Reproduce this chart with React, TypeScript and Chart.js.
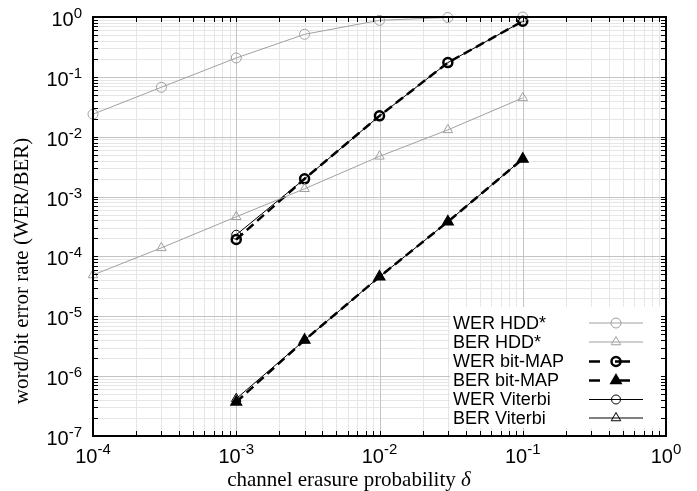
import React, { useEffect, useRef } from "react";
import { Chart, registerables } from "chart.js";

Chart.register(...registerables);

// ---- data ----
const deltaHDD = [1e-4, 3e-4, 1e-3, 3e-3, 1e-2, 3e-2, 1e-1];
const werHDD = [0.0238, 0.067, 0.207, 0.514, 0.88, 0.98, 1.0];
const berHDD = [4.9e-5, 1.39e-4, 4.6e-4, 1.35e-3, 4.7e-3, 0.013, 0.0445];
const deltaMAP = [1e-3, 3e-3, 1e-2, 3e-2, 1e-1];
const werMAP = [1.92e-4, 1.98e-3, 0.0223, 0.173, 0.85];
const berMAP = [3.7e-7, 4.0e-6, 4.57e-5, 3.8e-4, 4.26e-3];
const werViterbi = [2.3e-4, 1.98e-3, 0.0223, 0.173, 0.85];
const berViterbi = [4.2e-7, 4.0e-6, 4.57e-5, 3.8e-4, 4.26e-3];

const xExponents = [-4, -3, -2, -1, 0];
const yExponents = [-7, -6, -5, -4, -3, -2, -1, 0];

const legendLabels = [
  "WER HDD*",
  "BER HDD*",
  "WER bit-MAP",
  "BER bit-MAP",
  "WER Viterbi",
  "BER Viterbi",
];

const xTitle = "channel erasure probability ";
const xTitleSymbol = "δ";
const yTitle = "word/bit error rate (WER/BER)";

const GRAY = "#a0a0a0";
const SANS = "'Liberation Sans', Arial, sans-serif";
const SERIF = "'Liberation Serif', 'Times New Roman', serif";

const pts = (xs: number[], ys: number[]) => xs.map((x, i) => ({ x, y: ys[i] }));

const styles = [
  { color: GRAY, width: 1, dash: [] as number[], style: "circle", r: 5, bw: 1, fill: "rgba(0,0,0,0)" },
  { color: GRAY, width: 1, dash: [] as number[], style: "triangle", r: 5.5, bw: 1, fill: "rgba(0,0,0,0)" },
  { color: "#000", width: 2.5, dash: [9, 5], style: "circle", r: 4.5, bw: 2.5, fill: "rgba(0,0,0,0)" },
  { color: "#000", width: 2.5, dash: [9, 5], style: "triangle", r: 6, bw: 1.5, fill: "#000" },
  { color: "#000", width: 1, dash: [] as number[], style: "circle", r: 4.5, bw: 1, fill: "rgba(0,0,0,0)" },
  { color: "#000", width: 1, dash: [] as number[], style: "triangle", r: 5.5, bw: 1, fill: "rgba(0,0,0,0)" },
];

function drawMarker(ctx: CanvasRenderingContext2D, s: any, x: number, y: number) {
  ctx.save();
  ctx.setLineDash([]);
  ctx.lineWidth = s.bw;
  ctx.strokeStyle = s.color;
  ctx.fillStyle = s.fill;
  ctx.beginPath();
  if (s.style === "circle") {
    ctx.arc(x, y, s.r, 0, Math.PI * 2);
  } else {
    const r = s.r;
    ctx.moveTo(x, y - r);
    ctx.lineTo(x + r * Math.sin((2 * Math.PI) / 3), y - r * Math.cos((2 * Math.PI) / 3));
    ctx.lineTo(x + r * Math.sin((4 * Math.PI) / 3), y - r * Math.cos((4 * Math.PI) / 3));
    ctx.closePath();
  }
  ctx.fill();
  ctx.stroke();
  ctx.restore();
}

const decorPlugin = {
  id: "decor",
  beforeDatasetsDraw(chart: any) {
    const ctx: CanvasRenderingContext2D = chart.ctx;
    const xs = chart.scales.x;
    const ys = chart.scales.y;
    const { left, right, top, bottom } = chart.chartArea;
    ctx.save();
    ctx.lineWidth = 1;
    // minor grid
    ctx.strokeStyle = "#e6e6e6";
    ctx.beginPath();
    for (let e = -4; e < 0; e++) {
      for (let m = 2; m <= 9; m++) {
        const px = Math.round(xs.getPixelForValue(m * Math.pow(10, e))) + 0.5;
        ctx.moveTo(px, top);
        ctx.lineTo(px, bottom);
      }
    }
    for (let e = -7; e < 0; e++) {
      for (let m = 2; m <= 9; m++) {
        const py = Math.round(ys.getPixelForValue(m * Math.pow(10, e))) + 0.5;
        ctx.moveTo(left, py);
        ctx.lineTo(right, py);
      }
    }
    ctx.stroke();
    // major grid
    ctx.strokeStyle = "#c4c4c4";
    ctx.beginPath();
    xExponents.forEach((e) => {
      const px = Math.round(xs.getPixelForValue(Math.pow(10, e))) + 0.5;
      ctx.moveTo(px, top);
      ctx.lineTo(px, bottom);
    });
    yExponents.forEach((e) => {
      const py = Math.round(ys.getPixelForValue(Math.pow(10, e))) + 0.5;
      ctx.moveTo(left, py);
      ctx.lineTo(right, py);
    });
    ctx.stroke();
    ctx.restore();
  },
  afterDatasetsDraw(chart: any) {
    const ctx: CanvasRenderingContext2D = chart.ctx;
    const xs = chart.scales.x;
    const ys = chart.scales.y;
    const { left, right, top, bottom } = chart.chartArea;
    ctx.save();

    // legend box
    ctx.fillStyle = "#fff";
    ctx.fillRect(450, 307, 211, 121);
    const rowY = [323, 342, 361.5, 380.5, 399.5, 418];
    ctx.font = `18px ${SANS}`;
    ctx.textBaseline = "middle";
    ctx.textAlign = "left";
    legendLabels.forEach((lab, i) => {
      const s = styles[i];
      const y = rowY[i];
      ctx.fillStyle = "#000";
      ctx.fillText(lab, 453, y + 1);
      ctx.save();
      ctx.strokeStyle = s.color;
      ctx.lineWidth = s.width;
      ctx.beginPath();
      if (s.dash.length) {
        ctx.moveTo(589, y);
        ctx.lineTo(600, y);
        ctx.moveTo(615, y);
        ctx.lineTo(630, y);
      } else {
        ctx.moveTo(589, y);
        ctx.lineTo(643, y);
      }
      ctx.stroke();
      ctx.restore();
      drawMarker(ctx, s, 616, y);
    });

    // frame
    ctx.strokeStyle = "#000";
    ctx.lineWidth = 2;
    ctx.strokeRect(left, top, right - left, bottom - top);

    // ticks (inward, all sides)
    ctx.lineWidth = 1;
    ctx.beginPath();
    const tl = 5;
    for (let e = -4; e <= 0; e++) {
      for (let m = 1; m <= 9; m++) {
        if (e === 0 && m > 1) break;
        const px = Math.round(xs.getPixelForValue(m * Math.pow(10, e))) + 0.5;
        ctx.moveTo(px, bottom);
        ctx.lineTo(px, bottom - tl);
        ctx.moveTo(px, top);
        ctx.lineTo(px, top + tl);
      }
    }
    for (let e = -7; e <= 0; e++) {
      for (let m = 1; m <= 9; m++) {
        if (e === 0 && m > 1) break;
        const py = Math.round(ys.getPixelForValue(m * Math.pow(10, e))) + 0.5;
        ctx.moveTo(left, py);
        ctx.lineTo(left + tl, py);
        ctx.moveTo(right, py);
        ctx.lineTo(right - tl, py);
      }
    }
    ctx.stroke();

    // tick labels
    ctx.fillStyle = "#000";
    ctx.textBaseline = "alphabetic";
    const baseFont = `20px ${SANS}`;
    const supFont = `15px ${SANS}`;
    xExponents.forEach((e) => {
      const px = xs.getPixelForValue(Math.pow(10, e));
      ctx.font = baseFont;
      const w1 = ctx.measureText("10").width;
      ctx.font = supFont;
      const w2 = ctx.measureText(String(e)).width;
      const x0 = px - (w1 + w2) / 2;
      ctx.font = baseFont;
      ctx.textAlign = "left";
      ctx.fillText("10", x0, bottom + 27);
      ctx.font = supFont;
      ctx.fillText(String(e), x0 + w1, bottom + 18);
    });
    yExponents.forEach((e) => {
      const py = ys.getPixelForValue(Math.pow(10, e));
      ctx.font = supFont;
      const w2 = ctx.measureText(String(e)).width;
      ctx.font = baseFont;
      const w1 = ctx.measureText("10").width;
      const xr = left - 11;
      ctx.textAlign = "left";
      ctx.fillText("10", xr - w1 - w2, py + 9);
      ctx.font = supFont;
      ctx.fillText(String(e), xr - w2, py + 1);
    });

    // axis titles
    ctx.font = `21px ${SERIF}`;
    const wt = ctx.measureText(xTitle).width;
    ctx.font = `italic 21px ${SERIF}`;
    const ws = ctx.measureText(xTitleSymbol).width;
    const xt0 = 349 - (wt + ws) / 2;
    ctx.textAlign = "left";
    ctx.font = `21px ${SERIF}`;
    ctx.fillText(xTitle, xt0, 486);
    ctx.font = `italic 21px ${SERIF}`;
    ctx.fillText(xTitleSymbol, xt0 + wt, 486);

    ctx.save();
    ctx.translate(28, 271);
    ctx.rotate(-Math.PI / 2);
    ctx.font = `21px ${SERIF}`;
    ctx.textAlign = "center";
    ctx.fillText(yTitle, 0, 0);
    ctx.restore();

    ctx.restore();
  },
};

export default function App() {
  const ref = useRef<HTMLCanvasElement>(null);
  useEffect(() => {
    document.body.style.margin = "0";
    const seriesX = [deltaHDD, deltaHDD, deltaMAP, deltaMAP, deltaMAP, deltaMAP];
    const seriesY = [werHDD, berHDD, werMAP, berMAP, werViterbi, berViterbi];
    const datasets = seriesY.map((ys, i) => {
      const s = styles[i];
      return {
        label: legendLabels[i],
        data: pts(seriesX[i], ys),
        borderColor: s.color,
        borderWidth: s.width,
        borderDash: s.dash,
        pointStyle: s.style,
        pointRadius: s.r,
        pointBorderWidth: s.bw,
        pointBorderColor: s.color,
        pointBackgroundColor: s.fill,
        pointHoverRadius: s.r,
        tension: 0,
        fill: false,
        clip: false as any,
      };
    });
    const chart = new Chart(ref.current!, {
      type: "line",
      data: { datasets },
      options: {
        responsive: false,
        animation: false,
        events: [],
        layout: { padding: { left: 93, right: 31, top: 17, bottom: 55 } },
        plugins: { legend: { display: false }, tooltip: { enabled: false } },
        scales: {
          x: { type: "logarithmic", min: 1e-4, max: 1, display: false },
          y: { type: "logarithmic", min: 1e-7, max: 1, display: false },
        },
      },
      plugins: [decorPlugin],
    });
    return () => chart.destroy();
  }, []);
  return (
    <div style={{ position: "fixed", left: 0, top: 0, width: 697, height: 491, background: "#fff" }}>
      <canvas ref={ref} width={697} height={491} style={{ display: "block" }} />
    </div>
  );
}
